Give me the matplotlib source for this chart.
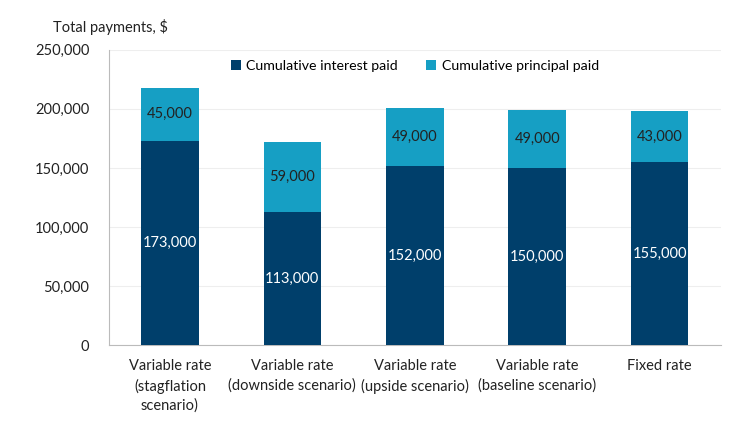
import numpy as np
import matplotlib.pyplot as plt

plt.rcParams['font.family'] = ['Lato', 'DejaVu Sans']

categories = ["Variable rate\n(stagflation\nscenario)", "Variable rate\n(downside scenario)",
              "Variable rate\n(upside scenario)", "Variable rate\n(baseline scenario)", "Fixed rate"]
interest = [173000, 113000, 152000, 150000, 155000]
principal = [45000, 59000, 49000, 49000, 43000]

dark = "#003F6B"
light = "#169FC4"

fig = plt.figure(figsize=(7.5, 4.22), dpi=100)
ax = fig.add_axes([0.145, 0.182, 0.816, 0.70])

x = np.arange(len(categories))
w = 0.47
b1 = ax.bar(x, interest, w, color=dark, label="Cumulative interest paid", zorder=3)
b2 = ax.bar(x, principal, w, bottom=interest, color=light, label="Cumulative principal paid", zorder=3)

for i in range(len(x)):
    ax.text(x[i], interest[i] / 2, f"{interest[i]:,}", ha="center", va="center",
            color="white", fontsize=10.5, zorder=4)
    ax.text(x[i], interest[i] + principal[i] / 2, f"{principal[i]:,}", ha="center", va="center",
            color="#222222", fontsize=10.5, zorder=4)

ax.set_xlim(-0.5, len(x) - 0.5)
ax.set_ylim(0, 250000)
ax.set_yticks(np.arange(0, 250001, 50000))
ax.set_yticklabels([f"{v:,}" for v in range(0, 250001, 50000)])
ax.set_xticks(x)
ax.set_xticklabels(categories, linespacing=1.45)
ax.tick_params(axis="both", length=0, labelsize=10.5, colors="#222222")
ax.tick_params(axis="x", pad=10)
ax.tick_params(axis="y", pad=14)

ax.grid(axis="y", color="#EEEEEE", linewidth=0.8, zorder=0)
for s in ["top", "right"]:
    ax.spines[s].set_visible(False)
ax.spines["left"].set_color("#BBBBBB")
ax.spines["bottom"].set_color("#BBBBBB")

ax.legend(loc="upper center", bbox_to_anchor=(0.5, 1.01), ncol=2, frameon=False,
          fontsize=10.2, handlelength=0.7, handleheight=0.7, handletextpad=0.4, columnspacing=2.0)

fig.text(0.071, 0.935, "Total payments, $", fontsize=10.5, color="#222222", va="center")

fig.savefig("out.png", dpi=100)
